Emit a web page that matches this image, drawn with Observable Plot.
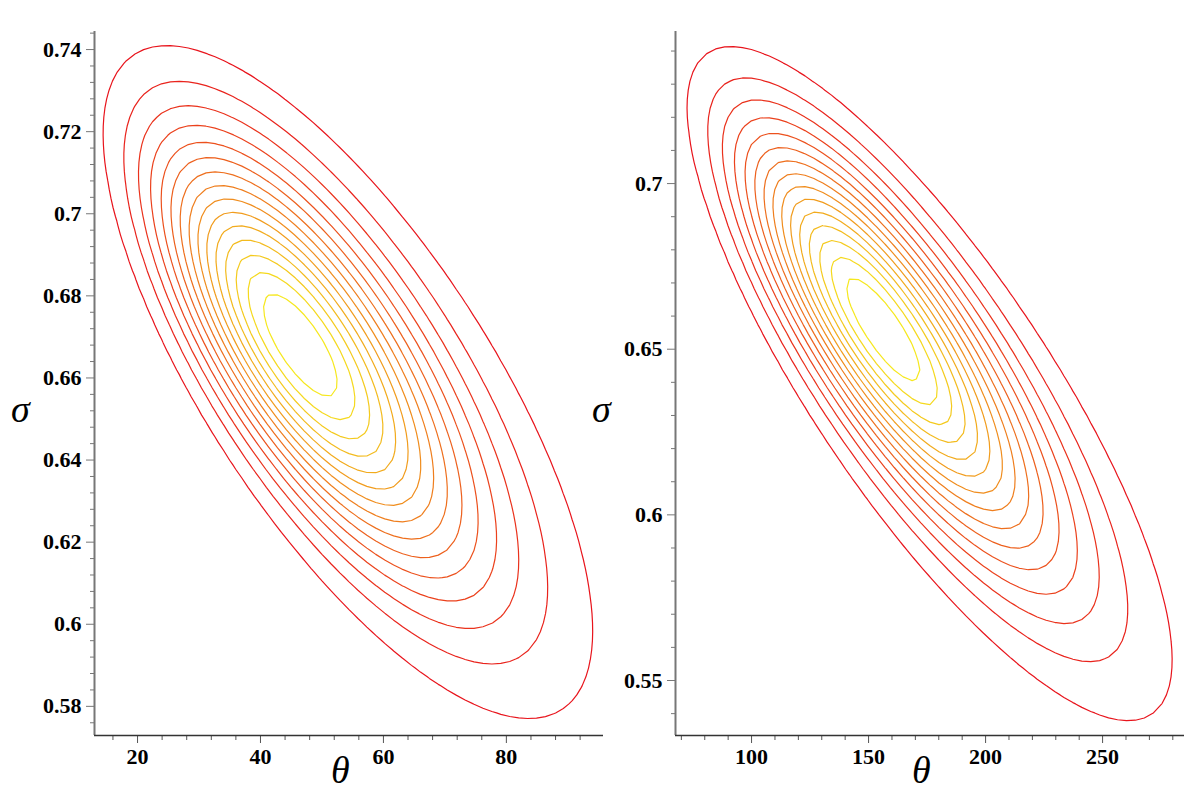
<!DOCTYPE html>
<html><head><meta charset="utf-8">
<script src="https://cdn.jsdelivr.net/npm/d3@7"></script>
<script src="https://cdn.jsdelivr.net/npm/@observablehq/plot@0.6"></script>
<style>
html,body{margin:0;padding:0;background:#fff}
body{width:1200px;height:795px;overflow:hidden;position:relative}
.panel{position:absolute;top:0}
.lbl{position:absolute;font-family:"Liberation Serif","DejaVu Serif",serif;font-style:italic;font-size:38px;line-height:1;color:#000}
</style></head><body>
<div id="left" class="panel" style="left:0px"></div>
<div id="right" class="panel" style="left:590px"></div>
<div class="lbl" style="left:11px;top:390px">σ</div>
<div class="lbl" style="left:592px;top:390px">σ</div>
<div class="lbl" style="left:331px;top:751px">θ</div>
<div class="lbl" style="left:912px;top:751px">θ</div>
<script>
// ---- Data ----
// contour levels (fraction of the maximum likelihood), 15 rings
const levels = [0.0625, 0.125, 0.1875, 0.25, 0.3125, 0.375, 0.4375, 0.5, 0.5625, 0.625, 0.6875, 0.75, 0.8125, 0.875, 0.9375];

// per panel: [left, right]
const thetaDomain = [[13.0, 95.8], [67.5, 285.0]];
const sigmaDomain = [[0.5729, 0.7444], [0.5334, 0.7459]];
const thetaCenter = [46.3, 155.8];      // maximum
const sigmaCenter = [0.6682, 0.6563];
const thetaSpread = [16.9, 44.0];       // ring half-width per unit radius
const sigmaSpread = [0.0348, 0.0432];
const correlation = [-0.74, -0.82];
const thetaDrift  = [1.43, 3.66];       // ring-centre shift per squared radius
const sigmaDrift  = [-0.00166, -0.00301];

const xTicksLeft  = [20, 40, 60, 80];
const xMinorLeft  = [16, 24, 28, 32, 36, 44, 48, 52, 56, 64, 68, 72, 76, 84, 88, 92];
const yTicksLeft  = [0.58, 0.6, 0.62, 0.64, 0.66, 0.68, 0.7, 0.72, 0.74];
const yMinorLeft  = [0.576, 0.584, 0.588, 0.592, 0.596, 0.604, 0.608, 0.612, 0.616, 0.624, 0.628, 0.632, 0.636, 0.644, 0.648, 0.652, 0.656, 0.664, 0.668, 0.672, 0.676, 0.684, 0.688, 0.692, 0.696, 0.704, 0.708, 0.712, 0.716, 0.724, 0.728, 0.732, 0.736, 0.744];
const xTicksRight = [100, 150, 200, 250];
const xMinorRight = [70, 80, 90, 110, 120, 130, 140, 160, 170, 180, 190, 210, 220, 230, 240, 260, 270, 280];
const yTicksRight = [0.55, 0.6, 0.65, 0.7];
const yMinorRight = [0.54, 0.56, 0.57, 0.58, 0.59, 0.61, 0.62, 0.63, 0.64, 0.66, 0.67, 0.68, 0.69, 0.71, 0.72, 0.73, 0.74];

const ringColors = ["#e8141c", "#f6e81e"];

// relative likelihood surface whose level sets are the ellipses
function ringValue(i) {
  const cx = thetaCenter[i], cy = sigmaCenter[i];
  const sx = thetaSpread[i], sy = sigmaSpread[i], r = correlation[i];
  const dx = thetaDrift[i] / sx, dy = sigmaDrift[i] / sy;
  const k = 1 / (1 - r * r);
  const Q = (a, b) => k * (a * a - 2 * r * a * b + b * b);
  const Bf = (a, b, c, d) => k * (a * c - r * (a * d + b * c) + b * d);
  const Qd = Q(dx, dy);
  return (t, s) => {
    const a = (t - cx) / sx, b = (s - cy) / sy;
    const q = Q(a, b);
    const p = 1 + 2 * Bf(a, b, dx, dy);
    const disc = p * p - 4 * Qd * q;
    if (disc < 0 || p <= 0) return 0;
    const ss = 2 * q / (p + Math.sqrt(disc));
    return Math.exp(-ss / 2);
  };
}

const textStyle = {fontFamily: "Liberation Serif, serif", fontSize: 22, fontWeight: "bold", fill: "#000"};

function panel(i, opts) {
  const [x0, x1] = thetaDomain[i], [y0, y1] = sigmaDomain[i];
  return Plot.plot({
    width: opts.width, height: 795,
    marginLeft: opts.ml, marginRight: opts.mr, marginTop: 31, marginBottom: 60,
    x: {domain: [x0, x1], axis: null},
    y: {domain: [y0, y1], axis: null},
    color: {type: "linear", domain: [levels[0], levels[levels.length - 1]], range: ringColors, interpolate: "rgb"},
    style: {fontFamily: "Liberation Serif, serif", fontSize: "22px", fontWeight: "bold", color: "#000", background: "transparent", overflow: "visible"},
    marks: [
      Plot.contour({value: ringValue(i), x1: x0, x2: x1, y1: y0, y2: y1, thresholds: levels, pixelSize: 9, fill: "none", stroke: "value", strokeWidth: 1.2}),
      Plot.axisY(opts.yMinor, {tickSize: 4, tickFormat: () => "", stroke: "#777", label: null}),
      Plot.axisY(opts.yTicks, {tickSize: 8, tickPadding: 5, stroke: "#777", tickFormat: d => String(+d.toFixed(3)), label: null, ...textStyle}),
      Plot.axisX(opts.xMinor, {tickSize: 5, tickFormat: () => "", stroke: "#555", label: null}),
      Plot.axisX(opts.xTicks, {tickSize: 8, tickPadding: 5, stroke: "#555", tickFormat: d => String(d), label: null, ...textStyle}),
      Plot.ruleX([x0], {stroke: "#777", strokeWidth: 2}),
      Plot.ruleY([y0], {stroke: "#333", strokeWidth: 1.6})
    ]
  });
}

document.getElementById("left").append(panel(0, {width: 610, ml: 94, mr: 7, xTicks: xTicksLeft, xMinor: xMinorLeft, yTicks: yTicksLeft, yMinor: yMinorLeft}));
document.getElementById("right").append(panel(1, {width: 610, ml: 85, mr: 16, xTicks: xTicksRight, xMinor: xMinorRight, yTicks: yTicksRight, yMinor: yMinorRight}));
</script>
</body></html>
